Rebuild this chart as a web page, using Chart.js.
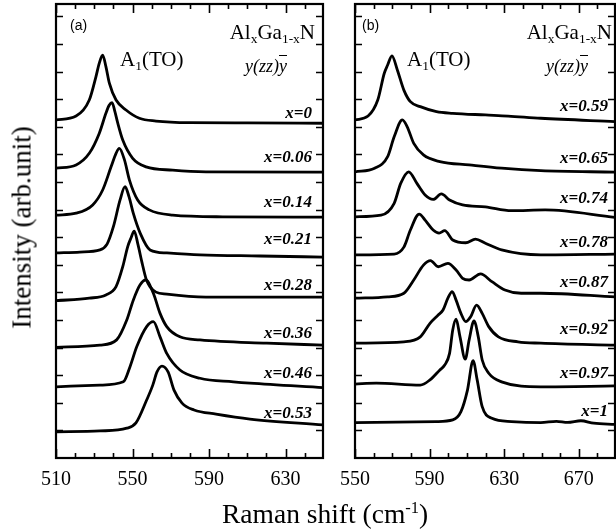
<!DOCTYPE html>
<html>
<head>
<meta charset="utf-8">
<script src="https://cdn.jsdelivr.net/npm/chart.js@4.4.1/dist/chart.umd.min.js"></script>
<style>
  body { margin: 0; background: #fff; }
  #wrap { position: relative; width: 616px; height: 531px; overflow: hidden;
          font-family: "Liberation Serif", "Times New Roman", serif; color: #000; }
  .panel { position: absolute; top: 0; height: 531px; }
  .t { position: absolute; white-space: nowrap; line-height: 1; }
  .sans { font-family: "Liberation Sans", Arial, sans-serif; }
  .sb { font-size: 0.64em; position: relative; top: 0.28em; line-height: 0; }
  .sp { font-size: 0.6em; position: relative; top: -0.62em; line-height: 0; }
  .lab { font-weight: bold; font-style: italic; font-size: 17px; }
</style>
</head>
<body>
<div id="wrap">
  <div class="panel" style="left:0;width:330px"><canvas id="chartA"></canvas></div>
  <div class="panel" style="left:330px;width:286px"><canvas id="chartB"></canvas></div>

  <div class="t sans" style="left:70px;top:18px;font-size:14px">(a)</div>
  <div class="t" style="left:120px;top:49px;font-size:21px">A<span class="sb">1</span>(TO)</div>
  <div class="t" style="right:301px;top:22px;font-size:21px">Al<span class="sb">x</span>Ga<span class="sb">1-x</span>N</div>
  <div class="t" style="right:329px;top:57px;font-size:18px;font-style:italic">y(zz)<span style="text-decoration:overline">y</span></div>

  <div class="t sans" style="left:362px;top:18px;font-size:14px">(b)</div>
  <div class="t" style="left:407px;top:49px;font-size:21px">A<span class="sb">1</span>(TO)</div>
  <div class="t" style="right:4px;top:22px;font-size:21px">Al<span class="sb">x</span>Ga<span class="sb">1-x</span>N</div>
  <div class="t" style="right:28px;top:57px;font-size:18px;font-style:italic">y(zz)<span style="text-decoration:overline">y</span></div>

  <div class="t" style="left:222px;top:500px;font-size:27.5px">Raman shift (cm<span class="sp">-1</span>)</div>
  <div class="t" style="left:-128px;top:214px;width:300px;text-align:center;font-size:27px;transform:rotate(-90deg)">Intensity (arb.unit)</div>

  <div id="labels"></div>
</div>

<script>
// panel (a): x = 0 ... 0.53
const compA = ["x=0", "x=0.06", "x=0.14", "x=0.21", "x=0.28", "x=0.36", "x=0.46", "x=0.53"];
const shift_a0 = [510, 520.5, 527.4, 530.9, 532.6, 534.4, 536.1, 537.9, 541.4, 546.6, 553.6, 562.3, 579.7, 610, 649.6];
const int_a0   = [12.25, 12.39, 12.97, 13.82, 14.30, 14.60, 14.18, 13.58, 12.97, 12.61, 12.31, 12.21, 12.15, 12.14, 12.13];
const shift_a1 = [510, 520.5, 527.4, 532.6, 536.1, 537.8, 539.3, 540.8, 542.3, 544.9, 550.1, 557.1, 571.0, 588.4, 649.6];
const int_a1   = [10.50, 10.62, 11.04, 11.76, 12.49, 12.78, 12.88, 12.55, 12.13, 11.52, 10.86, 10.55, 10.43, 10.37, 10.36];
const shift_a2 = [510, 520.5, 529.2, 534.4, 538.8, 541.4, 543.1, 545.8, 548.4, 552.7, 558.8, 571.0, 597.2, 649.6];
const int_a2   = [8.80, 8.87, 9.17, 9.71, 10.55, 11.04, 11.22, 10.80, 10.07, 9.35, 8.99, 8.80, 8.74, 8.73];
const shift_a3 = [510, 522.5, 533.0, 536.7, 540.0, 543.5, 546.1, 548.2, 550.4, 554.0, 559.2, 568.0, 585.3, 616.7, 649.6];
const int_a3   = [7.43, 7.46, 7.54, 7.75, 8.38, 9.35, 9.83, 9.46, 8.87, 8.15, 7.54, 7.43, 7.36, 7.32, 7.28];
const shift_a4 = [510, 527.4, 536.1, 541.4, 544.9, 547.5, 549.2, 550.9, 552.9, 555.0, 557.1, 559.2, 562.3, 568.0, 588.4, 649.6];
const int_a4   = [5.70, 5.79, 5.91, 6.21, 6.93, 7.66, 7.97, 8.22, 7.72, 7.07, 6.49, 6.20, 6.01, 5.94, 5.83, 5.83];
const shift_a5 = [510, 533.0, 541.7, 547.0, 550.4, 553.9, 556.9, 560.9, 564.4, 567.9, 574.8, 585.3, 620.2, 649.6];
const int_a5   = [4.01, 4.09, 4.28, 5.00, 5.72, 6.27, 6.45, 5.97, 5.24, 4.76, 4.39, 4.28, 4.16, 4.09];
const shift_a6 = [510, 533.0, 545.2, 548.7, 552.2, 557.4, 560.9, 564.4, 567.9, 574.8, 585.3, 602.7, 611.4, 649.6];
const int_a6   = [2.58, 2.64, 2.76, 3.31, 4.03, 4.76, 4.94, 4.39, 3.79, 3.19, 2.89, 2.76, 2.71, 2.55];
const shift_a7 = [510, 533.0, 547.0, 551.8, 557.4, 560.6, 562.8, 565.4, 568.6, 571.7, 575.9, 582.2, 593.7, 611.4, 649.6];
const int_a7   = [0.95, 0.98, 1.08, 1.27, 2.10, 2.64, 3.12, 3.33, 3.12, 2.46, 1.99, 1.74, 1.59, 1.41, 1.20];

// panel (b): x = 0.59 ... 1
const compB = ["x=0.59", "x=0.65", "x=0.74", "x=0.78", "x=0.87", "x=0.92", "x=0.97", "x=1"];
const shift_b0 = [550, 557.0, 562.2, 565.7, 567.5, 569.8, 572.7, 576.2, 579.7, 585.0, 593.7, 602.4, 619.9, 632.1, 649.6, 689.4];
const int_b0   = [12.25, 12.39, 12.97, 13.94, 14.24, 14.57, 14.06, 13.33, 12.91, 12.73, 12.55, 12.49, 12.43, 12.39, 12.31, 12.19];
const shift_b1 = [550, 560.5, 567.5, 571.0, 575.4, 578.0, 581.5, 586.7, 595.5, 611.2, 628.6, 649.6, 689.4];
const int_b1   = [10.37, 10.50, 10.92, 11.64, 12.25, 12.00, 11.40, 10.98, 10.74, 10.62, 10.50, 10.41, 10.36];
const shift_b2 = [550, 564.0, 571.0, 574.5, 578.8, 583.2, 587.6, 591.9, 596.3, 600.7, 607.7, 619.9, 633.9, 651.9, 689.4];
const int_b2   = [8.74, 8.80, 9.23, 9.95, 10.37, 9.95, 9.53, 9.37, 9.57, 9.35, 9.17, 9.10, 8.96, 8.99, 8.72];
const shift_b3 = [550, 571.0, 576.2, 579.7, 584.4, 587.6, 591.9, 595.1, 598.1, 602.4, 609.4, 614.6, 619.9, 628.6, 649.6, 689.4];
const int_b3   = [7.36, 7.39, 7.64, 8.26, 8.84, 8.62, 8.26, 8.15, 8.24, 7.90, 7.80, 7.93, 7.78, 7.54, 7.36, 7.39];
const shift_b4 = [550, 567.5, 576.2, 581.5, 586.7, 590.5, 594.6, 599.8, 604.2, 607.7, 611.2, 617.3, 623.4, 630.4, 639.1, 649.6, 689.4];
const int_b4   = [5.79, 5.84, 5.97, 6.45, 6.99, 7.15, 6.93, 7.05, 6.81, 6.51, 6.45, 6.67, 6.39, 6.09, 5.97, 5.97, 5.84];
const shift_b5 = [550, 576.2, 585.0, 590.2, 594.6, 597.2, 599.8, 602.1, 604.2, 606.8, 609.4, 612.0, 615.2, 618.2, 621.7, 626.9, 637.4, 649.6, 689.4];
const int_b5   = [4.16, 4.21, 4.39, 4.88, 5.18, 5.36, 5.79, 6.03, 5.72, 5.24, 4.94, 5.12, 5.54, 5.24, 4.76, 4.39, 4.21, 4.16, 4.09];
const shift_b6 = [550, 561.4, 585.0, 590.2, 595.5, 598.1, 600.7, 602.4, 604.2, 606.3, 609.1, 611.2, 613.8, 616.1, 618.2, 621.7, 628.6, 649.6, 689.4];
const int_b6   = [2.68, 2.71, 2.64, 2.83, 3.19, 3.37, 3.79, 4.64, 5.03, 4.39, 3.58, 4.28, 4.97, 4.39, 3.55, 3.07, 2.76, 2.58, 2.61];
const shift_b7 = [550, 593.7, 602.4, 606.8, 610.3, 613.3, 615.5, 618.2, 623.4, 633.9, 649.6, 658.0, 664.0, 671.1, 678.0, 689.4];
const int_b7   = [1.28, 1.32, 1.38, 1.68, 2.46, 3.53, 2.83, 1.86, 1.44, 1.32, 1.28, 1.33, 1.29, 1.35, 1.26, 1.22];

const ticksA = [510, 550, 590, 630];
const ticksB = [550, 590, 630, 670];

// label placement (px) for the composition tags
const labTopA = [104, 148, 192.5, 229.5, 275.5, 324, 364, 403.5];
const labTopB = [96.5, 148.5, 188.5, 232.5, 272.5, 320, 363.5, 401.5];

const labelsEl = document.getElementById("labels");
function addLabels(names, tops, right) {
  names.forEach((n, i) => {
    const d = document.createElement("div");
    d.className = "t lab";
    d.style.right = right + "px";
    d.style.top = tops[i] + "px";
    d.textContent = n;
    labelsEl.appendChild(d);
  });
}
addLabels(compA, labTopA, 304);
addLabels(compB, labTopB, 8);

function toPts(xs, ys) {
  return xs.map((v, i) => ({ x: v, y: ys[i] }));
}

const framePlugin = {
  id: "frame",
  afterDraw(chart) {
    const { ctx, chartArea: a, scales: { x, y } } = chart;
    ctx.save();
    ctx.strokeStyle = "#000";
    ctx.lineWidth = 1.6;
    ctx.beginPath();
    for (let v = Math.ceil(x.min / 10) * 10; v <= x.max; v += 10) {
      const px = Math.round(x.getPixelForValue(v)) + 0.5;
      const len = (v - 510) % 40 === 0 ? 9 : 5;
      ctx.moveTo(px, a.bottom); ctx.lineTo(px, a.bottom - len);
      ctx.moveTo(px, a.top); ctx.lineTo(px, a.top + len);
    }
    for (let v = 1; v < y.max; v++) {
      const py = Math.round(y.getPixelForValue(v)) + 0.5;
      ctx.moveTo(a.left, py); ctx.lineTo(a.left + 7, py);
      ctx.moveTo(a.right, py); ctx.lineTo(a.right - 7, py);
    }
    ctx.stroke();
    ctx.lineWidth = 2.2;
    ctx.strokeRect(a.left, a.top, a.right - a.left, a.bottom - a.top);
    ctx.restore();
  }
};

function makeChart(id, series, xmin, xmax, tickVals, pad) {
  return new Chart(document.getElementById(id), {
    type: "line",
    data: {
      datasets: series.map(s => ({
        data: toPts(s[0], s[1]),
        borderColor: "#000",
        borderWidth: 2.8,
        pointRadius: 0,
        fill: false,
        cubicInterpolationMode: "monotone"
      }))
    },
    options: {
      responsive: true,
      maintainAspectRatio: false,
      animation: false,
      layout: { padding: pad },
      plugins: { legend: { display: false }, tooltip: { enabled: false } },
      scales: {
        x: {
          type: "linear",
          min: xmin,
          max: xmax,
          afterBuildTicks: s => { s.ticks = tickVals.map(v => ({ value: v })); },
          afterFit: s => { s.height = 73; },
          grid: { display: false, drawTicks: false },
          border: { display: false },
          ticks: {
            color: "#000",
            padding: 10,
            maxRotation: 0,
            autoSkip: false,
            font: { family: "Liberation Serif", size: 20 }
          }
        },
        y: { type: "linear", min: 0, max: 16.45, display: false }
      }
    },
    plugins: [framePlugin]
  });
}

makeChart("chartA",
  [[shift_a0, int_a0], [shift_a1, int_a1], [shift_a2, int_a2], [shift_a3, int_a3],
   [shift_a4, int_a4], [shift_a5, int_a5], [shift_a6, int_a6], [shift_a7, int_a7]],
  510, 649.6, ticksA, { left: 56, right: 7, top: 4, bottom: 0 });

makeChart("chartB",
  [[shift_b0, int_b0], [shift_b1, int_b1], [shift_b2, int_b2], [shift_b3, int_b3],
   [shift_b4, int_b4], [shift_b5, int_b5], [shift_b6, int_b6], [shift_b7, int_b7]],
  550, 689.4, ticksB, { left: 19, right: 1, top: 4, bottom: 0 });
</script>
</body>
</html>
